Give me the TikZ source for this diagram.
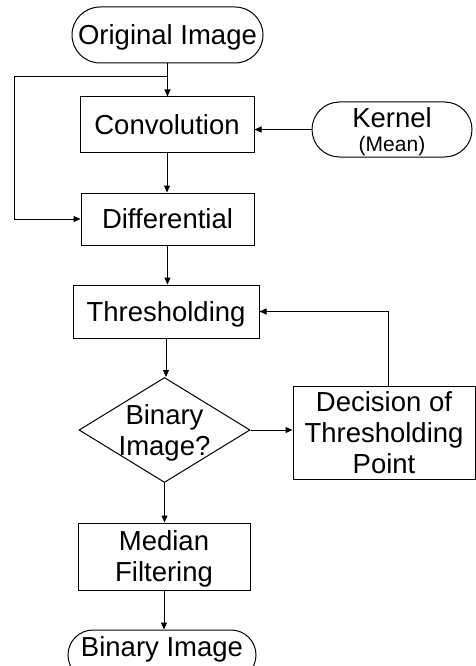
\documentclass[tikz,border=0pt]{standalone}
\usepackage{fontspec}
\setmainfont{Liberation Sans}
\usetikzlibrary{shapes.misc,shapes.geometric,arrows.meta}

\begin{document}
\begin{tikzpicture}[x=1pt,y=-1pt,
  line width=1pt,
  base/.style={draw=black, inner sep=0pt, align=center,
    font=\fontsize{27.5}{31}\selectfont, text depth=0pt},
  one/.style={base, text height=19.7pt},
  two/.style={base, text height=50.7pt},
  three/.style={base, text height=81.7pt},
  proc/.style={rectangle},
  term/.style={rounded rectangle},
  arr/.style={-{Triangle[length=7pt,width=6pt]}}]

\useasboundingbox (0,0) rectangle (476,666);
\clip (0,0) rectangle (476,666);

% nodes
\node[one, term, minimum width=191pt, minimum height=56pt] (orig) at (167.5,35) {Original Image};
\node[one, proc, minimum width=174pt, minimum height=55pt] (conv) at (167,124.5) {Convolution};
\node[base, term, text height=43.7pt, minimum width=160pt, minimum height=55pt] (kern) at (392,129.5)
  {Kernel\\[-7pt]{\fontsize{21}{21}\selectfont (Mean)}};
\node[one, proc, minimum width=173pt, minimum height=52pt] (diff) at (167.5,219) {Differential};
\node[one, proc, minimum width=186pt, minimum height=53pt] (thr) at (166,311.5) {Thresholding};
\node[two, diamond, aspect=1.63, inner sep=-4pt, minimum width=171pt, minimum height=105pt] (dia) at (164.5,430) {Binary\\Image?};
\node[three, proc, minimum width=182pt, minimum height=93pt] (dec) at (384,432.5) {Decision of\\Thresholding\\Point};
\node[two, proc, minimum width=172pt, minimum height=67pt] (med) at (164,556.5) {Median\\Filtering};
\node[one, term, minimum width=188pt, minimum height=50pt] (bin) at (162,655) {\raisebox{8pt}{Binary Image}};

% junction points of the bypass line
\coordinate (jn) at (167.5,77);
\coordinate (lft) at (14,77);

% connectors
\draw[arr] (orig.south) -- (orig.south |- conv.north);
\draw[arr] (jn) -- (lft) |- (diff.west);
\draw[arr] (kern.west) -- (kern.west -| conv.east);
\draw[arr] (conv.south) -- (conv.south |- diff.north);
\draw[arr] (diff.south) -- (diff.south |- thr.north);
\draw[arr] (thr.south) -- (thr.south |- dia.north);
\draw[arr] (dia.east) -- (dia.east -| dec.west);
\draw[arr] ([xshift=4pt]dec.north) |- (thr.east);
\draw[arr] (dia.south) -- (dia.south |- med.north);
\draw[arr] (med.south) -- (med.south |- bin.north);
\end{tikzpicture}
\end{document}
